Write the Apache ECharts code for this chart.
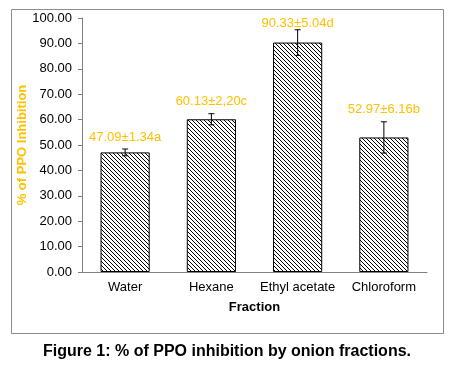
<!DOCTYPE html>
<html><head><meta charset="utf-8">
<script src="https://cdn.jsdelivr.net/npm/echarts@6/dist/echarts.min.js"></script>
<style>html,body{margin:0;padding:0;background:#fff}#c{width:454px;height:366px}</style>
</head><body><div id="c"></div>
<script>
const categories = ['Water', 'Hexane', 'Ethyl acetate', 'Chloroform'];
const values = [47.09, 60.13, 90.33, 52.97];
const errors = [1.34, 2.20, 5.04, 6.16];
const labels = ['47.09±1.34a', '60.13±2,20c', '90.33±5.04d', '52.97±6.16b'];
const yTicks = { min: 0, max: 100, interval: 10 };

const pc = document.createElement('canvas');
pc.width = 4; pc.height = 4;
const pctx = pc.getContext('2d');
pctx.fillStyle = '#fff'; pctx.fillRect(0, 0, 4, 4);
pctx.fillStyle = '#000';
for (let i = 0; i < 4; i++) pctx.fillRect(i, i, 1, 1);

const chart = echarts.init(document.getElementById('c'), null, { renderer: 'canvas' });
const font = 'Liberation Sans, Arial, sans-serif';
chart.setOption({
  animation: false,
  backgroundColor: '#fff',
  graphic: [
    { type: 'rect', shape: { x: 11.5, y: 9.5, width: 432, height: 324 }, style: { fill: 'none', stroke: '#8c8c8c', lineWidth: 1 }, silent: true },
    { type: 'text', left: 'center', top: 344, style: { text: 'Figure 1: % of PPO inhibition by onion fractions.', font: 'bold 16px Liberation Sans, Arial, sans-serif', fill: '#000' } }
  ],
  grid: { left: 82, right: 27, top: 18, bottom: 94 },
  xAxis: {
    type: 'category', data: categories,
    name: 'Fraction', nameLocation: 'middle', nameGap: 29,
    nameTextStyle: { fontFamily: font, fontWeight: 'bold', fontSize: 13, color: '#000' },
    axisLine: { lineStyle: { color: '#808080', width: 1 } },
    axisTick: { show: false },
    axisLabel: { fontFamily: font, fontSize: 13, color: '#000', margin: 9, interval: 0 }
  },
  yAxis: {
    type: 'value', min: yTicks.min, max: yTicks.max, interval: yTicks.interval,
    name: '% of PPO Inhibition', nameLocation: 'middle', nameGap: 60, nameRotate: 90,
    nameMoveOverlap: false,
    nameTextStyle: { fontFamily: font, fontWeight: 'bold', fontSize: 13, color: '#FFC000', verticalAlign: 'middle' },
    axisLine: { show: true, lineStyle: { color: '#808080', width: 1 } },
    axisTick: { show: true, length: 4, lineStyle: { color: '#808080' } },
    splitLine: { show: false },
    axisLabel: { fontFamily: font, fontSize: 13, color: '#000', margin: 10, formatter: v => v.toFixed(2) }
  },
  series: [
    {
      type: 'bar', data: values, barWidth: '57%',
      itemStyle: { color: { image: pc, repeat: 'repeat' }, borderColor: '#000', borderWidth: 1 }
    },
    {
      type: 'custom', data: values.map((v, i) => [i, v, errors[i]]),
      z: 10,
      renderItem: function (params, api) {
        const i = api.value(0), v = api.value(1), e = api.value(2);
        const hi = api.coord([i, v + e]);
        const lo = api.coord([i, v - e]);
        const x = hi[0];
        const ty = Math.max(hi[1] - 12, 23);
        return {
          type: 'group', children: [
            { type: 'line', shape: { x1: x, y1: hi[1], x2: x, y2: lo[1] }, style: { stroke: '#000', lineWidth: 1 } },
            { type: 'line', shape: { x1: x - 3, y1: hi[1], x2: x + 3, y2: hi[1] }, style: { stroke: '#000', lineWidth: 1 } },
            { type: 'line', shape: { x1: x - 3, y1: lo[1], x2: x + 3, y2: lo[1] }, style: { stroke: '#000', lineWidth: 1 } },
            { type: 'text', x: x, y: ty, style: { text: labels[params.dataIndex], fill: '#FFC000', font: '13px Liberation Sans, Arial, sans-serif', align: 'center', verticalAlign: 'middle' } }
          ]
        };
      }
    }
  ]
});
</script></body></html>
